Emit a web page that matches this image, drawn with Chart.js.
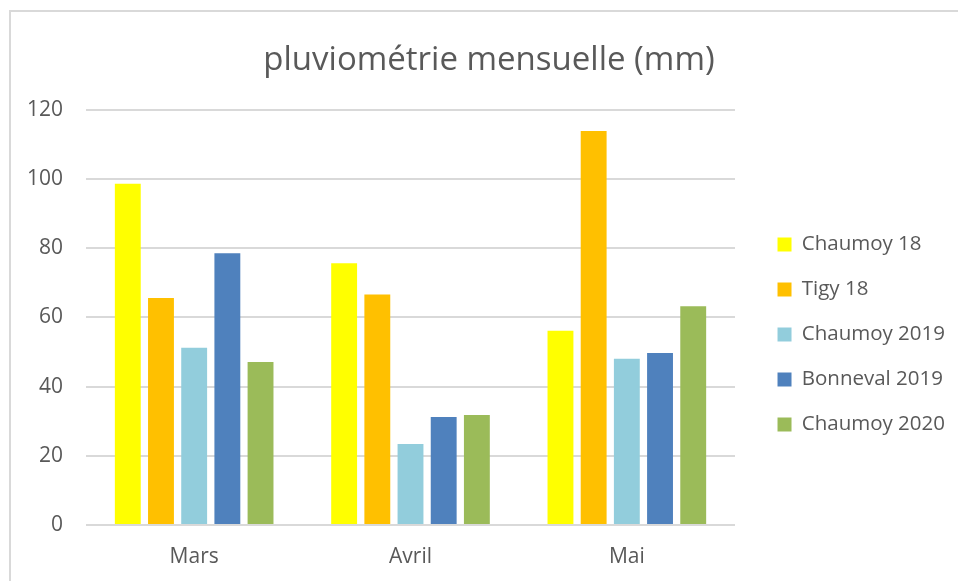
<!DOCTYPE html>
<html>
<head>
<meta charset="utf-8">
<script src="https://cdn.jsdelivr.net/npm/chart.js@4.4.0/dist/chart.umd.min.js"></script>
<style>
  html, body { margin: 0; padding: 0; background: #fff; overflow: hidden; }
  #frame { position: absolute; left: 9px; top: 10px; width: 1000px; height: 1000px; border: 2px solid #d9d9d9; }
  #wrap { position: absolute; left: 0; top: 0; width: 958px; height: 581px; }
</style>
</head>
<body>
<div id="frame"></div>
<div id="wrap"><canvas id="rainChart"></canvas></div>
<script>
const months = ['Mars', 'Avril', 'Mai'];
const seriesNames = ['Chaumoy 18', 'Tigy 18', 'Chaumoy 2019', 'Bonneval 2019', 'Chaumoy 2020'];
const chaumoy18 = [98.6, 75.6, 56.1];
const tigy18 = [65.6, 66.6, 113.8];
const chaumoy2019 = [51.2, 23.4, 48.0];
const bonneval2019 = [78.5, 31.2, 49.7];
const chaumoy2020 = [47.1, 31.8, 63.2];
const yTicks = [0, 20, 40, 60, 80, 100, 120];
const seriesColors = ['#FFFF00', '#FFC000', '#92CDDC', '#4F81BD', '#9BBB59'];

const textColor = '#595959';
const fontFamily = '"Open Sans", "Noto Sans", sans-serif';

const allSeries = [chaumoy18, tigy18, chaumoy2019, bonneval2019, chaumoy2020];

// give the legend some extra room on its left, then move it right and down a bit
const legendRoom = {
    id: 'legendRoom',
    beforeLayout(chart, args, opts) {
        const lg = chart.legend;
        if (lg && !lg._roomPatched) {
            const baseFit = lg.fit;
            lg.fit = function () {
                baseFit.call(this);
                this.width += opts.extra;
            };
            lg._roomPatched = true;
        }
    },
    afterLayout(chart, args, opts) {
        const lg = chart.legend;
        lg.left += opts.dx;
        lg.top += opts.dy;
        lg.bottom += opts.dy;
    }
};

const ctx = document.getElementById('rainChart').getContext('2d');
new Chart(ctx, {
    type: 'bar',
    data: {
        labels: months,
        datasets: allSeries.map((values, i) => ({
            label: seriesNames[i],
            data: values,
            backgroundColor: seriesColors[i],
            borderWidth: 0,
            categoryPercentage: 0.767,
            barPercentage: 0.78
        }))
    },
    options: {
        responsive: true,
        maintainAspectRatio: false,
        animation: false,
        layout: { padding: { left: 20, right: 0, top: 0, bottom: 0 } },
        plugins: {
            title: {
                display: true,
                text: 'pluviométrie mensuelle (mm)',
                color: textColor,
                font: { family: fontFamily, size: 33, weight: 'normal' },
                padding: { top: 41, bottom: 29 }
            },
            legend: {
                position: 'right',
                labels: {
                    color: textColor,
                    font: { family: fontFamily, size: 20.5 },
                    boxWidth: 14,
                    boxHeight: 14,
                    padding: 24.5
                }
            },
            legendRoom: { extra: 21, dx: 18, dy: 44 },
            tooltip: { enabled: false }
        },
        scales: {
            x: {
                afterFit: (scale) => { scale.height = 56; },
                grid: { display: false, drawTicks: false },
                border: { display: false },
                ticks: {
                    color: textColor,
                    font: { family: fontFamily, size: 21 },
                    padding: 19
                }
            },
            y: {
                min: 0,
                max: 120,
                afterFit: (scale) => { scale.width = 66; },
                afterBuildTicks: (scale) => { scale.ticks = yTicks.map(v => ({ value: v })); },
                grid: { color: '#d9d9d9', lineWidth: 2, drawTicks: false },
                border: { display: false },
                ticks: {
                    color: textColor,
                    font: { family: fontFamily, size: 21 },
                    padding: 23
                }
            }
        }
    },
    plugins: [legendRoom]
});
</script>
</body>
</html>
